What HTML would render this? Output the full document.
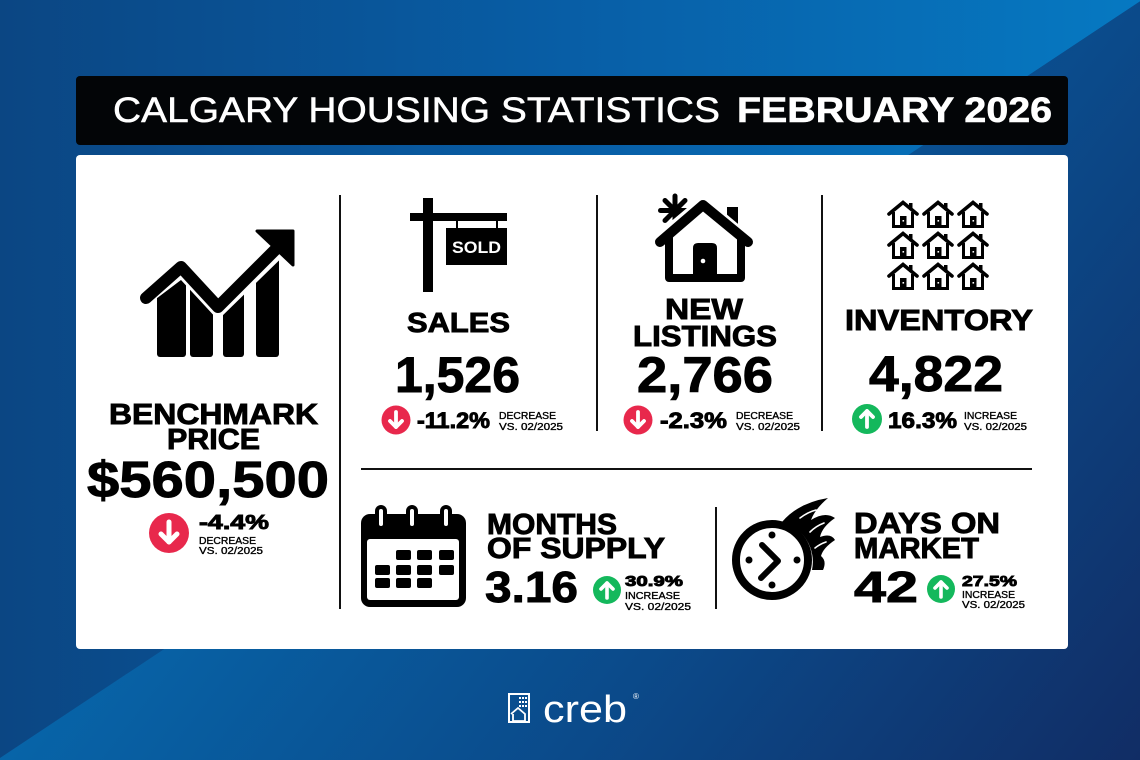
<!DOCTYPE html>
<html><head><meta charset="utf-8">
<style>
html,body{margin:0;padding:0;width:1140px;height:760px;overflow:hidden;background:#0b4a8a;}
svg{display:block;}
text{font-family:"Liberation Sans",Arial,sans-serif;}
.h{font-weight:bold;fill:#000;stroke:#000;stroke-width:0.9px;}
.s{font-weight:normal;fill:#000;stroke:#000;stroke-width:0.35px;font-size:10px;}
</style></head>
<body>
<svg width="1140" height="760" viewBox="0 0 1140 760" xmlns="http://www.w3.org/2000/svg">
<defs>
<linearGradient id="gUL" x1="0" y1="0" x2="1140" y2="0" gradientUnits="userSpaceOnUse">
<stop offset="0" stop-color="#0b4683"/>
<stop offset="0.5" stop-color="#085ea6"/>
<stop offset="1" stop-color="#0679c2"/>
</linearGradient>
<linearGradient id="gLR" x1="0" y1="760" x2="715" y2="1310" gradientUnits="userSpaceOnUse">
<stop offset="0" stop-color="#0764a8"/>
<stop offset="0.5" stop-color="#0b4a8a"/>
<stop offset="1" stop-color="#112d65"/>
</linearGradient>
<g id="hs">
<polyline points="2,14 16,2.5 30,14" fill="none" stroke="#000" stroke-width="3.6" stroke-linejoin="miter" stroke-linecap="round"/>
<rect x="22" y="3" width="3.5" height="7" fill="#000"/>
<polyline points="6.5,12 6.5,26.5 25.5,26.5 25.5,12" fill="none" stroke="#000" stroke-width="3"/>
<rect x="13" y="16" width="6.5" height="11" fill="#000"/>
<rect x="15.5" y="20" width="1.6" height="1.6" fill="#fff"/>
</g>
</defs>

<!-- background -->
<polygon points="0,0 1142,0 0,758" fill="url(#gUL)"/>
<polygon points="1142,0 1140,0 1140,760 0,760 0,758" fill="url(#gLR)"/>

<!-- title bar -->
<rect x="76" y="76" width="992" height="69" rx="4" fill="#030507"/>
<text x="113" y="122" font-size="35" fill="#fff" stroke="#fff" stroke-width="0.5" textLength="607" lengthAdjust="spacingAndGlyphs">CALGARY HOUSING STATISTICS</text>
<text x="737" y="122" font-size="35" font-weight="bold" fill="#fff" stroke="#fff" stroke-width="0.6" textLength="315" lengthAdjust="spacingAndGlyphs">FEBRUARY 2026</text>

<!-- card -->
<rect x="76" y="155" width="992" height="494" rx="4" fill="#fff"/>

<!-- dividers -->
<rect x="339" y="195" width="2" height="414" fill="#111"/>
<rect x="596" y="195" width="2" height="236" fill="#111"/>
<rect x="821" y="195" width="2" height="236" fill="#111"/>
<rect x="361" y="468" width="671" height="2" fill="#111"/>
<rect x="715" y="507" width="2" height="102" fill="#111"/>

<!-- benchmark chart icon -->
<rect x="157" y="255" width="29" height="102" rx="3" fill="#000"/>
<rect x="190" y="255" width="23" height="102" rx="3" fill="#000"/>
<rect x="223" y="255" width="21" height="102" rx="3" fill="#000"/>
<rect x="256" y="255" width="23" height="102" rx="3" fill="#000"/>
<polygon points="140,225 140,311 181,280 218,320 300,240 300,225" fill="#fff"/>
<polyline points="146,298 181,267 218,307 276,249" fill="none" stroke="#000" stroke-width="12" stroke-linejoin="round" stroke-linecap="round"/>
<polygon points="257,231 293,231 293,265" fill="#000" stroke="#000" stroke-width="3" stroke-linejoin="round"/>

<text class="h" x="109" y="424" font-size="29" textLength="209" lengthAdjust="spacingAndGlyphs">BENCHMARK</text>
<text class="h" x="167" y="449" font-size="29" textLength="93" lengthAdjust="spacingAndGlyphs">PRICE</text>
<text class="h" x="87" y="497" font-size="51" stroke-width="1.3" textLength="242" lengthAdjust="spacingAndGlyphs">$560,500</text>
<circle cx="169" cy="533" r="20" fill="#e8284c"/>
<g stroke="#fff" stroke-width="5" stroke-linecap="round" stroke-linejoin="round" fill="none">
<line x1="169" y1="522" x2="169" y2="542"/>
<polyline points="161,534 169,542 177,534"/>
</g>
<text class="h" x="199" y="529" font-size="20" textLength="70" lengthAdjust="spacingAndGlyphs">-4.4%</text>
<text class="s" x="199" y="544" textLength="57" lengthAdjust="spacingAndGlyphs">DECREASE</text>
<text class="s" x="199" y="554" textLength="64" lengthAdjust="spacingAndGlyphs">VS. 02/2025</text>

<!-- SALES -->
<rect x="423" y="198" width="10" height="94" fill="#000"/>
<rect x="410" y="213" width="97" height="8" fill="#000"/>
<rect x="456" y="221" width="2" height="8" fill="#000"/>
<rect x="496" y="221" width="2" height="8" fill="#000"/>
<rect x="446" y="228" width="61" height="37" fill="#000"/>
<text x="476.5" y="253" font-size="17" font-weight="bold" fill="#fff" text-anchor="middle" textLength="49" lengthAdjust="spacingAndGlyphs">SOLD</text>

<text class="h" x="407" y="332" font-size="28" textLength="103" lengthAdjust="spacingAndGlyphs">SALES</text>
<text class="h" x="395" y="392" font-size="50" stroke-width="1.3" textLength="125" lengthAdjust="spacingAndGlyphs">1,526</text>
<circle cx="396" cy="420" r="14.5" fill="#e8284c"/>
<g stroke="#fff" stroke-width="3.8" stroke-linecap="round" stroke-linejoin="round" fill="none">
<line x1="396" y1="412" x2="396" y2="427"/>
<polyline points="390,421 396,427 402,421"/>
</g>
<text class="h" x="417" y="428" font-size="22" textLength="73" lengthAdjust="spacingAndGlyphs">-11.2%</text>
<text class="s" x="499" y="419" textLength="57" lengthAdjust="spacingAndGlyphs">DECREASE</text>
<text class="s" x="499" y="430" textLength="64" lengthAdjust="spacingAndGlyphs">VS. 02/2025</text>

<!-- NEW LISTINGS -->
<g stroke="#000" stroke-width="5" stroke-linecap="round">
<line x1="675" y1="196" x2="675" y2="225"/>
<line x1="660.5" y1="210.5" x2="689.5" y2="210.5"/>
<line x1="665" y1="200.5" x2="685" y2="220.5"/>
<line x1="665" y1="220.5" x2="685" y2="200.5"/>
</g>
<rect x="727" y="207" width="11" height="20" fill="#000"/>
<polyline points="660,241 703,205 746,241" fill="none" stroke="#fff" stroke-width="16" stroke-linejoin="round" stroke-linecap="round"/>
<polyline points="660,242 703,205 748,242" fill="none" stroke="#000" stroke-width="10" stroke-linejoin="round" stroke-linecap="round"/>
<polyline points="669,233 669,278 741,278 741,233" fill="none" stroke="#000" stroke-width="8" stroke-linejoin="round"/>
<path d="M693 282 V248 Q693 243 698 243 H712 Q717 243 717 248 V282 Z" fill="#000"/>
<circle cx="703" cy="261" r="2.3" fill="#fff"/>

<text class="h" x="665" y="319" font-size="29" textLength="78" lengthAdjust="spacingAndGlyphs">NEW</text>
<text class="h" x="633" y="346" font-size="29" textLength="144" lengthAdjust="spacingAndGlyphs">LISTINGS</text>
<text class="h" x="637" y="392" font-size="50" stroke-width="1.3" textLength="136" lengthAdjust="spacingAndGlyphs">2,766</text>
<circle cx="638" cy="420" r="14.5" fill="#e8284c"/>
<g stroke="#fff" stroke-width="3.8" stroke-linecap="round" stroke-linejoin="round" fill="none">
<line x1="638" y1="412" x2="638" y2="427"/>
<polyline points="632,421 638,427 644,421"/>
</g>
<text class="h" x="660" y="428" font-size="22" textLength="67" lengthAdjust="spacingAndGlyphs">-2.3%</text>
<text class="s" x="736" y="419" textLength="57" lengthAdjust="spacingAndGlyphs">DECREASE</text>
<text class="s" x="736" y="430" textLength="64" lengthAdjust="spacingAndGlyphs">VS. 02/2025</text>

<!-- INVENTORY -->
<use href="#hs" x="887" y="200"/><use href="#hs" x="922" y="200"/><use href="#hs" x="957" y="200"/>
<use href="#hs" x="887" y="231"/><use href="#hs" x="922" y="231"/><use href="#hs" x="957" y="231"/>
<use href="#hs" x="887" y="262"/><use href="#hs" x="922" y="262"/><use href="#hs" x="957" y="262"/>

<text class="h" x="845" y="330" font-size="29" textLength="188" lengthAdjust="spacingAndGlyphs">INVENTORY</text>
<text class="h" x="869" y="391" font-size="50" stroke-width="1.3" textLength="134" lengthAdjust="spacingAndGlyphs">4,822</text>
<circle cx="867" cy="419" r="15" fill="#14b85c"/>
<g stroke="#fff" stroke-width="3.8" stroke-linecap="round" stroke-linejoin="round" fill="none">
<line x1="867" y1="427" x2="867" y2="411"/>
<polyline points="861,417 867,411 873,417"/>
</g>
<text class="h" x="888" y="428" font-size="22" textLength="69" lengthAdjust="spacingAndGlyphs">16.3%</text>
<text class="s" x="964" y="419" textLength="53" lengthAdjust="spacingAndGlyphs">INCREASE</text>
<text class="s" x="964" y="430" textLength="63" lengthAdjust="spacingAndGlyphs">VS. 02/2025</text>

<!-- MONTHS OF SUPPLY -->
<rect x="361" y="514" width="105" height="93" rx="9" fill="#000"/>
<rect x="367" y="539" width="92" height="61" rx="3" fill="#fff"/>
<g fill="#000">
<rect x="375" y="505" width="12" height="26" rx="6"/>
<rect x="406" y="505" width="12" height="26" rx="6"/>
<rect x="440" y="505" width="12" height="26" rx="6"/>
</g>
<g fill="#fff">
<rect x="379" y="509" width="4" height="17" rx="2"/>
<rect x="410" y="509" width="4" height="17" rx="2"/>
<rect x="444" y="509" width="4" height="17" rx="2"/>
</g>
<g fill="#000">
<rect x="396" y="550" width="15" height="10" rx="2"/><rect x="417" y="550" width="15" height="10" rx="2"/><rect x="439" y="550" width="15" height="10" rx="2"/>
<rect x="375" y="565" width="15" height="10" rx="2"/><rect x="396" y="565" width="15" height="10" rx="2"/><rect x="417" y="565" width="15" height="10" rx="2"/><rect x="439" y="565" width="15" height="10" rx="2"/>
<rect x="375" y="578" width="15" height="10" rx="2"/><rect x="396" y="578" width="15" height="10" rx="2"/><rect x="417" y="578" width="15" height="10" rx="2"/>
</g>

<text class="h" x="487" y="534" font-size="29" textLength="130" lengthAdjust="spacingAndGlyphs">MONTHS</text>
<text class="h" x="487" y="558" font-size="29" textLength="178" lengthAdjust="spacingAndGlyphs">OF SUPPLY</text>
<text class="h" x="485" y="602" font-size="44" stroke-width="1.2" textLength="93" lengthAdjust="spacingAndGlyphs">3.16</text>
<circle cx="607" cy="590" r="14" fill="#14b85c"/>
<g stroke="#fff" stroke-width="3.6" stroke-linecap="round" stroke-linejoin="round" fill="none">
<line x1="607" y1="598" x2="607" y2="583"/>
<polyline points="601,589 607,583 613,589"/>
</g>
<text class="h" x="625" y="586" font-size="15" stroke-width="0.6" textLength="58" lengthAdjust="spacingAndGlyphs">30.9%</text>
<text class="s" x="625" y="599" textLength="55" lengthAdjust="spacingAndGlyphs">INCREASE</text>
<text class="s" x="625" y="610" textLength="66" lengthAdjust="spacingAndGlyphs">VS. 02/2025</text>

<!-- DAYS ON MARKET -->
<path d="M782 522 Q798 503 828 498 Q815 509 811 520 Q825 511 835 518 Q822 527 820 537 Q831 533 835 540 Q823 548 821 556 Q827 561 823 570 L812 570 A41 41 0 0 0 782 522 Z" fill="#000"/>
<g stroke="#fff" stroke-width="1.6" fill="none" stroke-linecap="round">
<path d="M800 518 Q808 512 816 510"/>
<path d="M810 532 Q816 526 824 523"/>
<path d="M815 548 Q820 544 826 542"/>
</g>
<circle cx="772" cy="560" r="36" fill="#fff" stroke="#000" stroke-width="8"/>
<g fill="#000">
<circle cx="772" cy="535" r="3.5"/><circle cx="772" cy="585" r="3.5"/>
<circle cx="749" cy="560" r="3.5"/><circle cx="797" cy="560" r="3.5"/>
</g>
<polyline points="762,545 778,561 761,578" fill="none" stroke="#000" stroke-width="6" stroke-linecap="round" stroke-linejoin="round"/>

<text class="h" x="854" y="533" font-size="29" textLength="146" lengthAdjust="spacingAndGlyphs">DAYS ON</text>
<text class="h" x="854" y="558" font-size="29" textLength="125" lengthAdjust="spacingAndGlyphs">MARKET</text>
<text class="h" x="854" y="602" font-size="44" stroke-width="1.2" textLength="64" lengthAdjust="spacingAndGlyphs">42</text>
<circle cx="941" cy="589" r="14" fill="#14b85c"/>
<g stroke="#fff" stroke-width="3.6" stroke-linecap="round" stroke-linejoin="round" fill="none">
<line x1="941" y1="597" x2="941" y2="582"/>
<polyline points="935,588 941,582 947,588"/>
</g>
<text class="h" x="962" y="586" font-size="15" stroke-width="0.6" textLength="55" lengthAdjust="spacingAndGlyphs">27.5%</text>
<text class="s" x="962" y="598" textLength="53" lengthAdjust="spacingAndGlyphs">INCREASE</text>
<text class="s" x="962" y="608" textLength="63" lengthAdjust="spacingAndGlyphs">VS. 02/2025</text>

<!-- creb logo -->
<rect x="509" y="694" width="20" height="28" fill="none" stroke="#fff" stroke-width="2"/>
<g fill="#fff">
<rect x="519" y="697" width="2" height="2"/><rect x="522" y="697" width="2" height="2"/><rect x="525" y="697" width="2" height="2"/>
<rect x="519" y="701" width="2" height="2"/><rect x="522" y="701" width="2" height="2"/><rect x="525" y="701" width="2" height="2"/>
<rect x="519" y="705" width="2" height="2"/><rect x="522" y="705" width="2" height="2"/><rect x="525" y="705" width="2" height="2"/>
</g>
<polyline points="511,714 518,708 525,714 525,721 513,721 513,714" fill="none" stroke="#fff" stroke-width="1.8"/>
<text x="543" y="722" font-size="38" fill="#fff" textLength="84" lengthAdjust="spacingAndGlyphs">creb</text>
<text x="633" y="699" font-size="8" fill="#fff">®</text>
</svg>
</body></html>
